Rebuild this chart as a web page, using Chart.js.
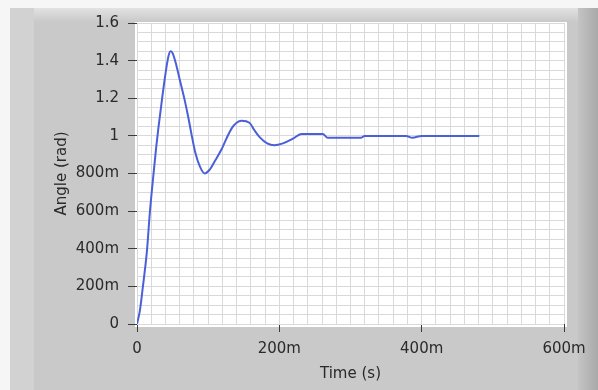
<!DOCTYPE html>
<html>
<head>
<meta charset="utf-8">
<script src="https://cdn.jsdelivr.net/npm/chart.js@4.4.1/dist/chart.umd.min.js"></script>
<style>
  html, body { margin: 0; padding: 0; background: #ffffff; }
  #wrap { width: 598px; height: 390px; position: relative; }
</style>
</head>
<body>
<div id="wrap"><canvas id="angleChart" width="598" height="390"></canvas></div>
<script>
// step response (time in seconds, angle in rad)
const times = [0, 0.004, 0.008, 0.014, 0.018, 0.023, 0.027, 0.030, 0.035, 0.040, 0.044, 0.047,
    0.050, 0.055, 0.060, 0.067, 0.072, 0.077, 0.082, 0.088, 0.095, 0.102, 0.110, 0.119, 0.125,
    0.133, 0.140, 0.147, 0.158, 0.165, 0.172, 0.183, 0.193, 0.205, 0.219, 0.231, 0.261, 0.268,
    0.315, 0.320, 0.378, 0.387, 0.400, 0.481];
const angles = [0, 0.07, 0.19, 0.39, 0.59, 0.79, 0.94, 1.04, 1.19, 1.33, 1.42, 1.45,
    1.44, 1.38, 1.30, 1.19, 1.10, 1.00, 0.91, 0.84, 0.80, 0.82, 0.87, 0.93, 0.98,
    1.04, 1.07, 1.08, 1.07, 1.03, 0.995, 0.96, 0.95, 0.96, 0.985, 1.01, 1.01, 0.99,
    0.99, 1.00, 1.00, 0.99, 1.00, 1.00];

const xMin = 0, xMax = 0.6, xMajor = 0.2, xMinor = 0.02;
const yMin = 0, yMax = 1.6, yMajor = 0.2, yMinor = 0.05;

const points = times.map((t, i) => ({ x: t, y: angles[i] }));

function isMajor(v, step) {
    return Math.abs(v / step - Math.round(v / step)) < 1e-6;
}

// LabVIEW style labels: 200m, 800m, 1, 1.2 ...
function siLabel(v) {
    if (Math.abs(v) < 1e-9) return '0';
    if (v < 1) return Math.round(v * 1000) + 'm';
    return String(Math.round(v * 10) / 10);
}

// grey panel + white plot area behind the chart
const panelPlugin = {
    id: 'panel',
    beforeDraw(chart) {
        const c = chart.ctx;
        const a = chart.chartArea;
        c.save();
        c.fillStyle = '#f6f6f6';
        c.fillRect(0, 0, chart.width, chart.height);
        c.fillStyle = '#c9c9c9';
        c.fillRect(10, 8, 580, chart.height - 8);
        c.fillStyle = '#d2d2d2';
        c.fillRect(10, 8, 24, chart.height - 8);
        let g = c.createLinearGradient(0, 8, 0, 22);
        g.addColorStop(0, '#e2e2e2');
        g.addColorStop(1, '#c9c9c9');
        c.fillStyle = g;
        c.fillRect(34, 8, 556, 14);
        g = c.createLinearGradient(578, 0, 598, 0);
        g.addColorStop(0, '#c4c4c4');
        g.addColorStop(1, '#a9a9a9');
        c.fillStyle = g;
        c.fillRect(578, 8, 20, chart.height - 8);
        c.fillStyle = '#ffffff';
        c.fillRect(a.left - 2, a.top - 1, a.right - a.left + 5, a.bottom - a.top + 4);
        c.restore();
    }
};

const ctx = document.getElementById('angleChart').getContext('2d');
const angleChart = new Chart(ctx, {
    type: 'line',
    data: {
        datasets: [{
            label: 'Angle',
            data: points,
            borderColor: '#4a5fd8',
            borderWidth: 2,
            pointRadius: 0,
            fill: false,
            cubicInterpolationMode: 'monotone'
        }]
    },
    options: {
        responsive: false,
        animation: false,
        events: [],
        layout: { padding: { left: 49, right: 34, top: 23, bottom: 3 } },
        plugins: { legend: { display: false }, tooltip: { enabled: false } },
        scales: {
            x: {
                type: 'linear',
                min: xMin,
                max: xMax,
                afterFit: (s) => { s.height = 63; },
                border: { display: false },
                grid: {
                    color: '#d9d9d9',
                    lineWidth: 1,
                    tickLength: 8,
                    tickColor: (c) => isMajor(c.tick.value, xMajor) ? '#3a3a3a' : 'rgba(0,0,0,0)'
                },
                ticks: {
                    stepSize: xMinor,
                    autoSkip: false,
                    maxRotation: 0,
                    padding: 8,
                    color: '#2a2a2a',
                    font: { family: 'DejaVu Sans', size: 15 },
                    callback: (v) => isMajor(v, xMajor) ? siLabel(v) : ''
                },
                title: {
                    display: true,
                    text: 'Time (s)',
                    color: '#2a2a2a',
                    font: { family: 'DejaVu Sans', size: 15 },
                    padding: { top: 4, bottom: 4 }
                }
            },
            y: {
                type: 'linear',
                min: yMin,
                max: yMax,
                afterFit: (s) => { s.width = 88; },
                border: { display: false },
                grid: {
                    color: '#d9d9d9',
                    lineWidth: 1,
                    tickLength: 9,
                    tickColor: (c) => isMajor(c.tick.value, yMajor) ? '#3a3a3a' : 'rgba(0,0,0,0)'
                },
                ticks: {
                    stepSize: yMinor,
                    autoSkip: false,
                    padding: 9,
                    color: '#2a2a2a',
                    font: { family: 'DejaVu Sans', size: 15 },
                    callback: (v) => isMajor(v, yMajor) ? siLabel(v) : ''
                },
                title: {
                    display: true,
                    text: 'Angle (rad)',
                    color: '#2a2a2a',
                    font: { family: 'DejaVu Sans', size: 15 },
                    padding: { top: 4, bottom: 4 }
                }
            }
        }
    },
    plugins: [panelPlugin]
});
</script>
</body>
</html>
